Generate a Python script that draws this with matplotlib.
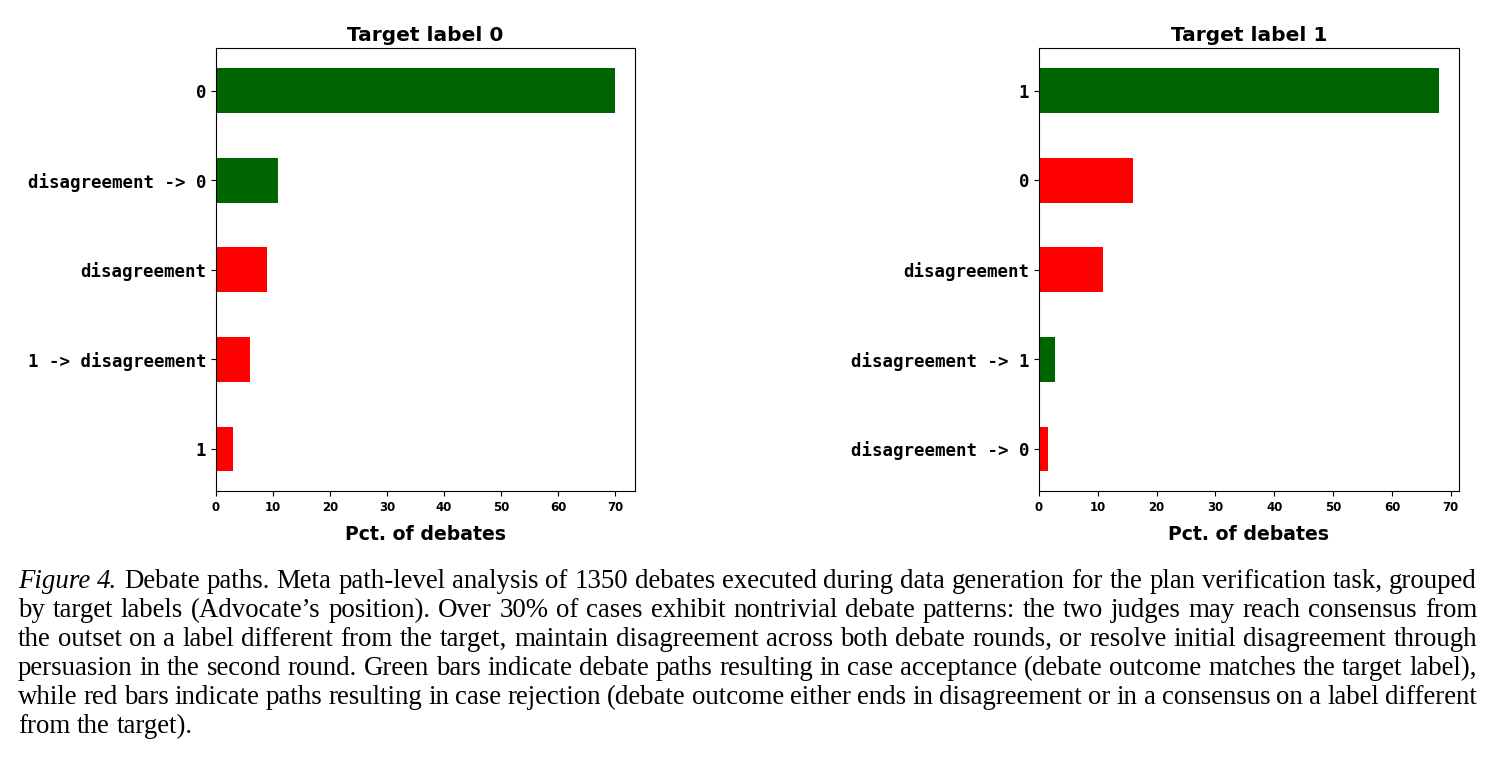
import matplotlib
matplotlib.use("Agg")
import matplotlib.pyplot as plt

# data (percent of debates)
paths_t0 = ["0", "disagreement -> 0", "disagreement", "1 -> disagreement", "1"]
pct_t0 = [70.0, 10.9, 9.0, 6.0, 3.0]
accept_t0 = [True, True, False, False, False]

paths_t1 = ["1", "0", "disagreement", "disagreement -> 1", "disagreement -> 0"]
pct_t1 = [68.0, 15.9, 10.9, 2.7, 1.5]
accept_t1 = [True, False, False, True, False]

caption_lines = [
    "Figure 4. Debate paths. Meta path-level analysis of 1350 debates executed during data generation for the plan verification task, grouped",
    "by target labels (Advocate\u2019s position). Over 30% of cases exhibit nontrivial debate patterns: the two judges may reach consensus from",
    "the outset on a label different from the target, maintain disagreement across both debate rounds, or resolve initial disagreement through",
    "persuasion in the second round. Green bars indicate debate paths resulting in case acceptance (debate outcome matches the target label),",
    "while red bars indicate paths resulting in case rejection (debate outcome either ends in disagreement or in a consensus on a label different",
    "from the target).",
]

W, H = 1494, 762
fig = plt.figure(figsize=(W / 100, H / 100), dpi=100)


def panel(rect, labels, vals, ok, title):
    ax = fig.add_axes(rect)
    ypos = list(range(len(labels)))[::-1]
    cols = ["#006400" if a else "#ff0000" for a in ok]
    ax.barh(ypos, vals, height=0.5, color=cols)
    ax.set_yticks(ypos)
    ax.set_yticklabels(labels, family="DejaVu Sans Mono", fontweight="bold", fontsize=12.5)
    ax.set_ylim(-0.47, len(labels) - 0.52)
    ax.set_xlim(0, max(vals) * 1.05)
    ax.set_xticks(range(0, 80, 10))
    for t in ax.get_xticklabels():
        t.set_fontweight("bold")
        t.set_fontsize(8.5)
    ax.set_title(title, fontweight="bold", fontsize=14.5, pad=5)
    ax.set_xlabel("Pct. of debates", fontweight="bold", fontsize=13.6, labelpad=8)
    return ax


top, bot = 47.7, 491
panel([216 / W, 1 - bot / H, (635 - 216) / W, (bot - top) / H], paths_t0, pct_t0, accept_t0, "Target label 0")
panel([1039 / W, 1 - bot / H, (1459 - 1039) / W, (bot - top) / H], paths_t1, pct_t1, accept_t1, "Target label 1")

# caption, justified line by line
renderer = fig.canvas.get_renderer()
x0, x1 = 18, 1477
base0, step = 588, 29.0
fs = 19.4
for i, line in enumerate(caption_lines):
    yb = 1 - (base0 + i * step) / H
    words = line.split(" ")
    texts = []
    for j, w in enumerate(words):
        style = "italic" if (i == 0 and j < 2) else "normal"
        t = fig.text(0, yb, w, family="Liberation Serif", fontsize=fs, style=style, va="baseline", ha="left")
        texts.append(t)
    widths = [t.get_window_extent(renderer).width for t in texts]
    if i < len(caption_lines) - 1:
        gap = (x1 - x0 - sum(widths)) / (len(words) - 1)
    else:
        gap = 0.25 * fs * 100 / 72
    x = x0
    for t, w in zip(texts, widths):
        t.set_x(x / W)
        x += w + gap

fig.savefig("out.png", dpi=100)
